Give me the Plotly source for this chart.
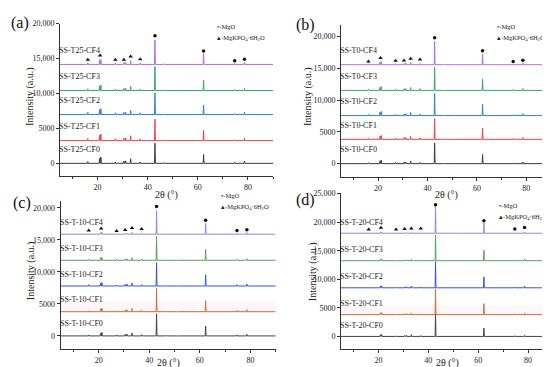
import plotly.graph_objects as go

# ---------------- data ----------------
PEAK_2THETA = [16.1, 20.8, 21.3, 27.1, 30.5, 31.2, 33.2, 37.0, 42.9, 46.6, 51.0, 62.3, 74.7, 78.6]

SERIES_CF = ["CF0", "CF1", "CF2", "CF3", "CF4"]

A_PREFIX = "SS-T25-"
A_BASELINE = [0, 3250, 6980, 10420, 14150]
A_HEIGHTS = [
    [250, 700, 900, 200, 300, 350, 650, 200, 2880, 100, 80, 1270, 150, 300],
    [300, 800, 950, 250, 350, 400, 700, 250, 3070, 120, 80, 1460, 150, 350],
    [300, 700, 850, 250, 300, 350, 650, 250, 3110, 100, 80, 1370, 150, 350],
    [250, 650, 800, 200, 300, 350, 600, 200, 3440, 100, 80, 1460, 150, 300],
    [250, 650, 750, 200, 300, 300, 550, 200, 3490, 100, 80, 1600, 150, 300],
]
B_PREFIX = "SS-T0-"
B_BASELINE = [0, 3830, 7570, 11530, 15580]
B_HEIGHTS = [
    [150, 450, 550, 200, 250, 250, 400, 200, 3270, 80, 60, 1450, 120, 250],
    [200, 500, 600, 200, 250, 300, 450, 250, 3270, 80, 60, 1770, 150, 300],
    [200, 550, 650, 200, 250, 300, 500, 250, 3480, 80, 60, 1820, 150, 300],
    [200, 500, 600, 200, 250, 300, 450, 300, 3690, 80, 60, 1820, 150, 300],
    [150, 450, 500, 150, 200, 250, 400, 200, 3690, 60, 60, 1660, 120, 250],
]
C_PREFIX = "SS-T-10-"
C_BASELINE = [0, 3790, 7800, 11820, 15900]
C_HEIGHTS = [
    [150, 450, 550, 150, 250, 300, 450, 200, 3450, 80, 60, 1550, 150, 250],
    [150, 450, 550, 150, 250, 300, 500, 200, 3660, 80, 60, 1700, 200, 300],
    [200, 450, 550, 150, 250, 300, 450, 200, 3660, 80, 60, 1750, 200, 300],
    [150, 400, 450, 150, 200, 250, 400, 200, 3760, 60, 60, 1700, 150, 250],
    [100, 250, 300, 100, 150, 150, 250, 150, 3660, 60, 60, 1700, 150, 250],
]
D_PREFIX = "SS-T-20-"
D_BASELINE = [0, 3820, 8510, 13250, 18060]
D_HEIGHTS = [
    [100, 300, 350, 100, 150, 200, 300, 150, 3880, 60, 60, 1450, 120, 200],
    [100, 300, 350, 100, 150, 200, 300, 150, 4510, 60, 60, 1910, 150, 300],
    [100, 300, 350, 100, 150, 200, 300, 150, 4570, 60, 60, 1910, 150, 300],
    [100, 250, 300, 100, 150, 150, 250, 150, 4510, 60, 60, 1850, 150, 300],
    [80, 150, 200, 80, 100, 100, 150, 100, 4740, 50, 50, 1850, 120, 200],
]

MARK_2THETA = [16.1, 21.0, 27.1, 30.5, 33.2, 37.0, 42.9, 62.3, 74.7, 78.6]
MARK_PHASE = ["K", "K", "K", "K", "K", "K", "M", "M", "M", "M"]
A_MARK_Y = [14810, 15420, 14810, 14810, 15280, 14900, 18250, 16080, 14670, 14900]
B_MARK_Y = [16100, 16620, 16200, 16250, 16510, 16410, 19830, 17760, 16100, 16300]
C_MARK_Y = [16490, 16800, 16390, 16550, 16860, 16700, 20210, 18090, 16490, 16600]
D_MARK_Y = [18730, 19020, 18730, 18790, 18900, 18900, 23060, 20230, 18790, 19080]

Y_TICKS_20K = [0, 5000, 10000, 15000, 20000]
Y_TICKTEXT_20K = ["0", "5000", "10,000", "15,000", "20,000"]
Y_TICKS_25K = [0, 5000, 10000, 15000, 20000, 25000]
Y_TICKTEXT_25K = ["0", "5000", "10,000", "15,000", "20,000", "25,000"]

LEGEND_MGO = "•-MgO"
LEGEND_MKP = "▴-MgKPO<sub>4</sub>·6H<sub>2</sub>O"

# ---------------- style ----------------
W, H = 550, 367
FONT = "Liberation Serif, Times New Roman, serif"
COLORS_AB = ["#3a3a3a", "#e8434b", "#2f7dd8", "#3aa56a", "#b06ee0"]
COLORS_CD = ["#444444", "#c47240", "#3552e0", "#58a064", "#9387e2"]

def px_x(p):
    return p / W

def px_y(p):
    return 1 - p / H

panels = [
    dict(key="a", prefix=A_PREFIX, base=A_BASELINE, heights=A_HEIGHTS, marks=A_MARK_Y,
         colors=COLORS_AB, xdom=(52, 265), ydom=(11.7, 166), yrange=(-1840, 20000),
         ticks=(Y_TICKS_20K, Y_TICKTEXT_20K), lab_shift=14,
         letter=(12, 11), ytitle=(22, 86), xtitle=(158, 185), legend=(208, 15)),
    dict(key="b", prefix=B_PREFIX, base=B_BASELINE, heights=B_HEIGHTS, marks=B_MARK_Y,
         colors=COLORS_AB, xdom=(333, 543), ydom=(12.7, 167), yrange=(-2130, 21900),
         ticks=(Y_TICKS_20K, Y_TICKTEXT_20K), lab_shift=14,
         letter=(297, 13), ytitle=(300, 86), xtitle=(438, 185), legend=(488, 15)),
    dict(key="c", prefix=C_PREFIX, base=C_BASELINE, heights=C_HEIGHTS, marks=C_MARK_Y,
         colors=COLORS_CD, xdom=(52.7, 267.7), ydom=(191, 341), yrange=(-2090, 21100),
         ticks=(Y_TICKS_20K, Y_TICKTEXT_20K), lab_shift=12,
         letter=(14, 193), ytitle=(23, 262), xtitle=(160, 355), legend=(212, 186)),
    dict(key="d", prefix=D_PREFIX, base=D_BASELINE, heights=D_HEIGHTS, marks=D_MARK_Y,
         colors=COLORS_CD, xdom=(333, 545), ydom=(183, 341), yrange=(-2250, 25100),
         ticks=(Y_TICKS_25K, Y_TICKTEXT_25K), lab_shift=11,
         letter=(297, 190), ytitle=(305, 263), xtitle=(439, 355), legend=(490, 196)),
]

fig = go.Figure()
annotations = []
shapes = []
layout = {}

for i, p in enumerate(panels):
    n = "" if i == 0 else str(i + 1)
    xa, ya = "x" + n, "y" + n
    for s, cf in enumerate(SERIES_CF):
        b = p["base"][s]
        xs, ys = [5.0], [b]
        for pos, h in zip(PEAK_2THETA, p["heights"][s]):
            xs += [pos - 0.18, pos, pos + 0.18]
            ys += [b, b + h, b]
        xs.append(90.0)
        ys.append(b)
        fig.add_trace(go.Scatter(x=xs, y=ys, mode="lines", xaxis=xa, yaxis=ya,
                                 line=dict(color=p["colors"][s], width=1),
                                 showlegend=False, hoverinfo="skip"))
        annotations.append(dict(x=5, y=b, xref=xa, yref=ya, text=p["prefix"] + cf,
                                showarrow=False, xanchor="left", yanchor="middle",
                                yshift=p["lab_shift"], xshift=-2, borderpad=0,
                                font=dict(family=FONT, size=8, color="#222")))
    # phase markers
    for phase, sym, sz in (("K", "triangle-up", 4), ("M", "circle", 3.5)):
        mx = [x for x, ph in zip(MARK_2THETA, MARK_PHASE) if ph == phase]
        my = [y for y, ph in zip(p["marks"], MARK_PHASE) if ph == phase]
        fig.add_trace(go.Scatter(x=mx, y=my, mode="markers", xaxis=xa, yaxis=ya,
                                 marker=dict(symbol=sym, size=sz, color="#111"),
                                 showlegend=False, hoverinfo="skip"))
    if p["key"] in ("c", "d"):
        b1 = p["base"][1]
        shapes.append(dict(type="rect", xref=xa, yref=ya, x0=5, x1=90,
                           y0=b1 - 200, y1=b1 + 1600, line=dict(width=0),
                           fillcolor="rgba(255,190,200,0.14)", layer="below"))

    layout["xaxis" + n] = dict(
        domain=[px_x(p["xdom"][0]), px_x(p["xdom"][1])], anchor=ya, range=[5, 90],
        tickvals=[20, 40, 60, 80], ticks="outside", ticklen=3, tickwidth=1,
        tickcolor="#333", showline=True, linecolor="#333", linewidth=1,
        showgrid=False, zeroline=False,
        minor=dict(tickvals=[10, 30, 50, 70, 90], ticks="outside", ticklen=2,
                   tickcolor="#333"),
        tickfont=dict(family=FONT, size=8, color="#222"))
    layout["yaxis" + n] = dict(
        domain=[px_y(p["ydom"][1]), px_y(p["ydom"][0])], anchor=xa, range=list(p["yrange"]),
        tickvals=p["ticks"][0], ticktext=p["ticks"][1], ticks="outside", ticklen=3,
        tickwidth=1, tickcolor="#333", showline=True, linecolor="#333", linewidth=1,
        showgrid=False, zeroline=False,
        tickfont=dict(family=FONT, size=8, color="#222"))

    annotations.append(dict(x=px_x(p["letter"][0]), y=px_y(p["letter"][1]), xref="paper",
                            yref="paper", text="(" + p["key"] + ")", showarrow=False,
                            xanchor="center", yanchor="middle",
                            font=dict(family=FONT, size=16, color="#111")))
    annotations.append(dict(x=px_x(p["ytitle"][0]), y=px_y(p["ytitle"][1]), xref="paper",
                            yref="paper", text="Intensity (a.u.)", showarrow=False,
                            textangle=-90, xanchor="center", yanchor="middle",
                            font=dict(family=FONT, size=10, color="#222")))
    annotations.append(dict(x=px_x(p["xtitle"][0]), y=px_y(p["xtitle"][1]), xref="paper",
                            yref="paper", text="2θ (°)", showarrow=False,
                            xanchor="center", yanchor="middle",
                            font=dict(family=FONT, size=10, color="#222")))
    lx, ly = p["legend"]
    annotations.append(dict(x=px_x(lx), y=px_y(ly), xref="paper", yref="paper",
                            text=LEGEND_MGO, showarrow=False, xanchor="left",
                            yanchor="middle", borderpad=0,
                            font=dict(family=FONT, size=6.5, color="#222")))
    annotations.append(dict(x=px_x(lx), y=px_y(ly + 11), xref="paper", yref="paper",
                            text=LEGEND_MKP, showarrow=False, xanchor="left",
                            yanchor="middle", borderpad=0,
                            font=dict(family=FONT, size=6.5, color="#222")))

fig.update_layout(width=W, height=H, margin=dict(l=0, r=0, t=0, b=0),
                  paper_bgcolor="white", plot_bgcolor="white",
                  annotations=annotations, shapes=shapes, **layout)

fig.write_html("out.html")
